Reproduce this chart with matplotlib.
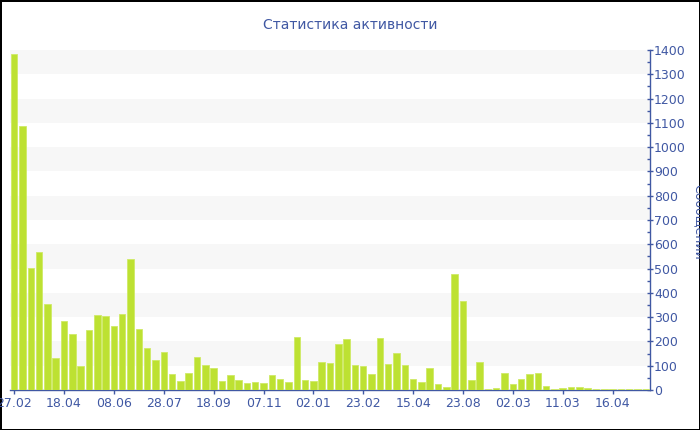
import matplotlib
matplotlib.use("Agg")
import matplotlib.pyplot as plt
from matplotlib.ticker import MultipleLocator
import numpy as np

# messages per period
counts = [1385, 1088, 501, 569, 354, 132, 285, 230, 97, 247,
          307, 306, 265, 312, 538, 250, 171, 125, 158, 64,
          38, 71, 136, 101, 91, 38, 63, 41, 30, 33,
          29, 62, 44, 33, 217, 41, 37, 115, 112, 189,
          209, 104, 100, 66, 214, 108, 151, 101, 44, 33,
          89, 23, 14, 477, 366, 43, 115, 6, 8, 69,
          26, 47, 64, 70, 17, 6, 8, 12, 11, 8,
          6, 6, 6, 6, 6, 6, 6]
tick_labels = ["27.02", "18.04", "08.06", "28.07", "18.09", "07.11", "02.01",
               "23.02", "15.04", "23.08", "02.03", "11.03", "16.04"]
label_step = 6

title = "Статистика активности"
ylabel = "Сообщений"

blue = "#4058a3"
bar_col = "#bde132"
band_col = "#f7f7f7"

W, H = 700, 430
fig = plt.figure(figsize=(7, 4.3), dpi=100)
fig.patch.set_facecolor("white")
fig.patch.set_edgecolor("black")
fig.patch.set_linewidth(2)

ax = fig.add_axes([10 / W, 1 - 390 / H, 640 / W, 340 / H])
x = np.arange(len(counts))

# alternating grey bands
for lo in range(100, 1400, 200):
    ax.axhspan(lo, lo + 100, color=band_col, lw=0, zorder=0)

ax.bar(x, counts, width=0.78, color=bar_col, edgecolor="#cfea66",
       linewidth=0.6, zorder=3)

ax.set_xlim(-0.5, len(counts) - 0.5)
ax.set_ylim(0, 1400)

ax.set_xticks(x[::label_step])
ax.set_xticklabels(tick_labels)

ax.yaxis.tick_right()
ax.yaxis.set_major_locator(MultipleLocator(100))
ax.yaxis.set_minor_locator(MultipleLocator(50))

for s in ["top", "left"]:
    ax.spines[s].set_visible(False)
for s in ["bottom", "right"]:
    ax.spines[s].set_color(blue)
    ax.spines[s].set_linewidth(1)

ax.tick_params(axis="x", colors=blue, labelsize=9, length=3, width=1,
               direction="out", pad=2)
ax.tick_params(axis="y", which="major", colors=blue, labelsize=9, length=4,
               width=1, direction="inout", pad=1)
ax.tick_params(axis="y", which="minor", colors=blue, length=2, width=1,
               direction="in")

fig.text(0.5, 1 - 25 / H, title, ha="center", va="center",
         color=blue, fontsize=10)
fig.text(698 / W, 1 - 222 / H, ylabel, ha="center", va="center",
         rotation=270, color=blue, fontsize=9)

fig.savefig("out.png", dpi=100)
